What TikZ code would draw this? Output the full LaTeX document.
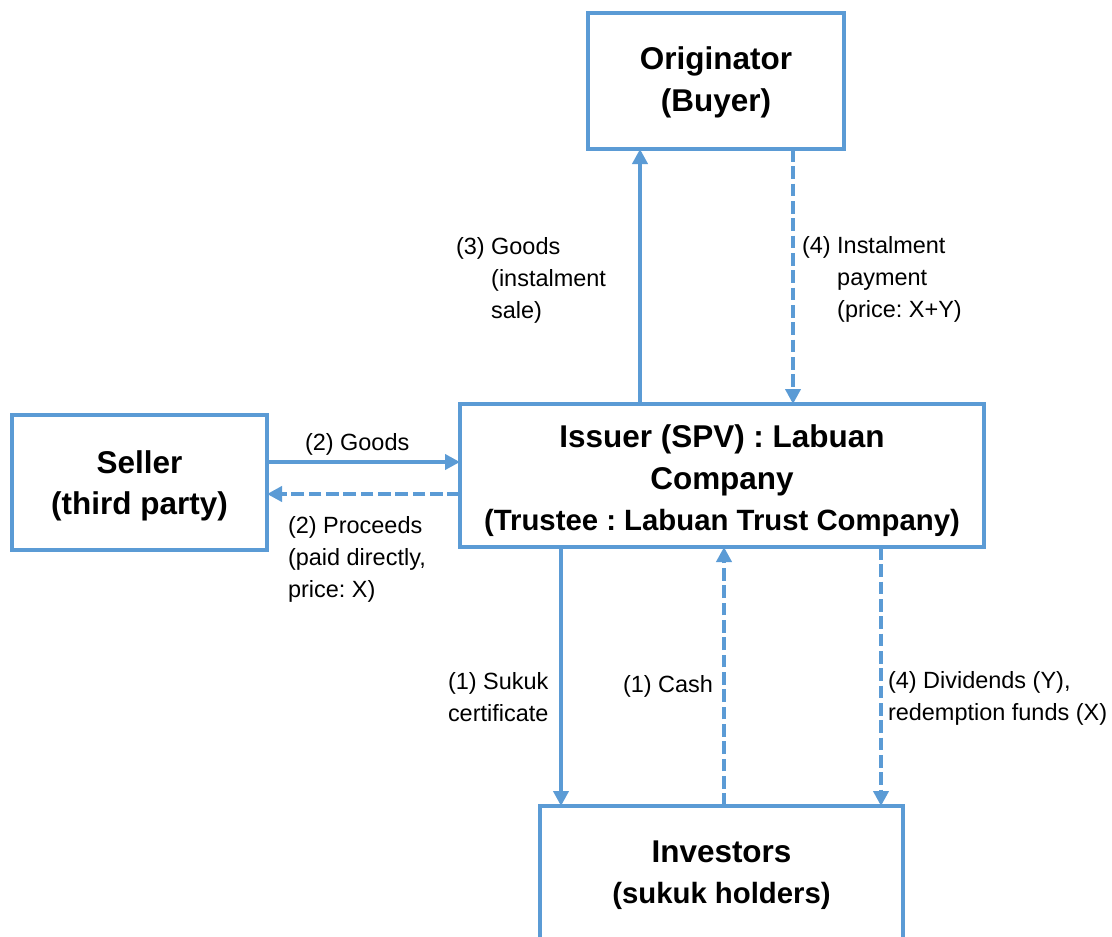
\documentclass[tikz,border=0pt]{standalone}
\usepackage{fontspec}
\setmainfont{Liberation Sans}
\usetikzlibrary{arrows.meta}
\definecolor{myblue}{HTML}{5B9BD5}
\frenchspacing
\newcommand{\smallline}{\fontsize{22}{31}\selectfont}
\begin{document}
\begin{tikzpicture}[x=0.75pt,y=-0.75pt,
 box/.style={draw=myblue, line width=3pt, fill=white, inner sep=0pt, outer sep=0pt, align=center, font=\fontsize{23.6}{31}\selectfont\bfseries},
 lbl/.style={inner sep=0pt, outer sep=0pt, anchor=base west, font=\fontsize{17.6}{24}\selectfont},
 arr/.style={draw=myblue, line width=3pt, -{Triangle[width=11.25pt,length=11.25pt]}},
 dsh/.style={arr, dash pattern=on 9.5pt off 3.5pt}]
\useasboundingbox (0,0) rectangle (1112,936);
\node[box, minimum width=192pt, minimum height=102pt] (orig) at (716,81) {\rule{0pt}{19pt}Originator\\(Buyer)};
\node[box, minimum width=191.25pt, minimum height=101.25pt] (sel) at (139.5,482.5) {\rule{0pt}{22.5pt}Seller\\(third party)};
\node[box, minimum width=393pt, minimum height=107.25pt] (iss) at (722,475.5) {\rule{0pt}{25pt}Issuer (SPV) : Labuan\\Company\\{\smallline(Trustee : Labuan Trust Company)}};
\node[box, minimum width=272.25pt, minimum height=104.25pt] (inv) at (721.5,875.5) {Investors\\{\smallline(sukuk holders)}};

\draw[arr] (iss.north -| 640,0) -- (orig.south -| 640,0);
\draw[dsh] (orig.south -| 793,0) -- (iss.north -| 793,0);
\draw[arr] (sel.east |- 0,462) -- (iss.west |- 0,462);
\draw[dsh] (iss.west |- 0,494) -- (sel.east |- 0,494);
\draw[arr] (iss.south -| 561,0) -- (inv.north -| 561,0);
\draw[dsh] (inv.north -| 724,0) -- (iss.south -| 724,0);
\draw[dsh] (iss.south -| 881,0) -- (inv.north -| 881,0);

\node[lbl] (l3) at (456,254) {\begin{tabular}[t]{@{}l@{\ }l@{}}(3)&Goods\\&(instalment\\&sale)\end{tabular}};
\node[lbl] (l4) at (802,253) {\begin{tabular}[t]{@{}l@{\ }l@{}}(4)&Instalment\\&payment\\&(price: X+Y)\end{tabular}};
\node[lbl] (l2a) at (305,450) {(2) Goods};
\node[lbl] (l2b) at (288,533) {\begin{tabular}[t]{@{}l@{}}(2) Proceeds\\(paid directly,\\price: X)\end{tabular}};
\node[lbl] (l1a) at (448,689) {\begin{tabular}[t]{@{}l@{}}(1) Sukuk\\certificate\end{tabular}};
\node[lbl] (l1b) at (623,692) {(1) Cash};
\node[lbl] (l4b) at (888,688) {\begin{tabular}[t]{@{}l@{}}(4) Dividends (Y),\\redemption funds (X)\end{tabular}};
\end{tikzpicture}
\end{document}
